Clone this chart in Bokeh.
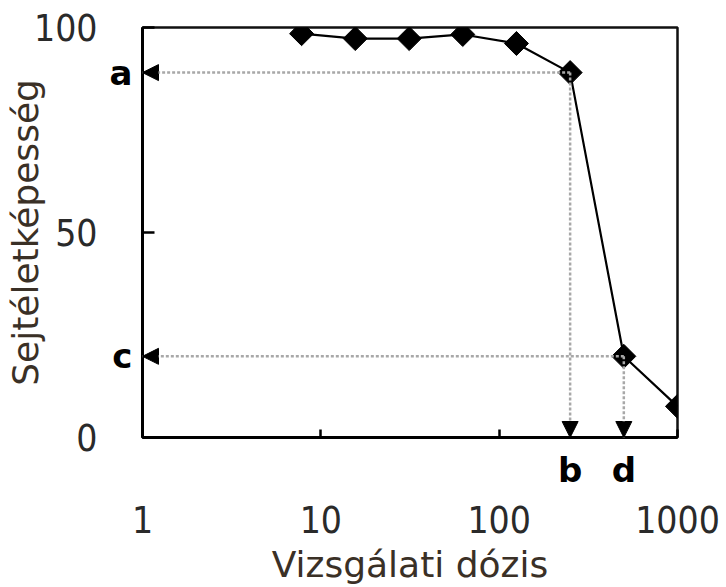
import numpy as np
from bokeh.plotting import figure
from bokeh.models import Range1d, FixedTicker, Arrow, NormalHead, LinearAxis, LogAxis
from bokeh.embed import file_html
from bokeh.resources import INLINE

# ---- data ----
dose = [7.8, 15.6, 31.3, 62.5, 125, 250, 500, 1000]
viability = [98.5, 97.3, 97.3, 98.3, 96.1, 89.0, 19.8, 7.6]
x_ticks = [1, 10, 100, 1000]
x_tick_labels = ["1", "10", "100", "1000"]
y_ticks = [0, 50, 100]
y_tick_labels = ["0", "50", "100"]
letters = ["a", "b", "c", "d"]
x_title = "Vizsgálati dózis"
y_title = "Sejtéletképesség"
ref_idx = [5, 6]  # points marked by (a, b) and (c, d)

W, H = 726, 587
TICK_FONT = "DejaVu Sans Condensed, DejaVu Sans"
TITLE_FONT = "DejaVu Sans"
TXT = "#2a2a2a"

p = figure(width=W, height=H, x_axis_type="log",
           x_range=Range1d(1, 1000), y_range=Range1d(0, 100),
           output_backend="svg", toolbar_location=None,
           min_border_left=142, min_border_right=49,
           min_border_top=27, min_border_bottom=150)
p.grid.visible = False
p.background_fill_color = "white"
p.border_fill_color = "white"
p.outline_line_color = "#111111"
p.outline_line_width = 2.5
p.outline_line_alpha = 1.0

# ---- inner left axis: letters a, c + inner ticks at 0/50/100 ----
ya = p.yaxis[0]
ya.ticker = FixedTicker(ticks=[viability[i] for i in ref_idx], minor_ticks=y_ticks)
ya.major_label_overrides = {viability[i]: letters[2 * k] for k, i in enumerate(ref_idx)}
ya.major_tick_in = 0
ya.major_tick_out = 0
ya.minor_tick_in = 12
ya.minor_tick_out = 0
ya.minor_tick_line_width = 2.5
ya.minor_tick_line_color = "black"
ya.axis_line_width = 3
ya.axis_line_color = "black"
ya.major_label_standoff = 10
ya.major_label_text_font = TITLE_FONT
ya.major_label_text_font_style = "bold"
ya.major_label_text_font_size = "34px"
ya.major_label_text_color = "black"

# ---- outer left axis: numbers + title ----
ya2 = LinearAxis(ticker=FixedTicker(ticks=y_ticks))
ya2.major_label_overrides = {t: l for t, l in zip(y_ticks, y_tick_labels)}
ya2.axis_line_color = None
ya2.major_tick_line_color = None
ya2.minor_tick_line_color = None
ya2.major_tick_in = 0
ya2.major_tick_out = 0
ya2.minor_tick_in = 0
ya2.minor_tick_out = 0
ya2.major_label_standoff = 9
ya2.major_label_text_font = TICK_FONT
ya2.major_label_text_font_size = "37px"
ya2.major_label_text_color = TXT
ya2.axis_label = y_title
ya2.axis_label_text_font = TITLE_FONT
ya2.axis_label_text_font_size = "36px"
ya2.axis_label_text_font_style = "normal"
ya2.axis_label_text_color = "#3a3026"
ya2.axis_label_standoff = -15
p.add_layout(ya2, "left")

# ---- inner bottom axis: letters b, d + inner ticks at 10/100 ----
xa = p.xaxis[0]
xa.ticker = FixedTicker(ticks=[dose[i] for i in ref_idx], minor_ticks=x_ticks)
xa.major_label_overrides = {dose[i]: letters[2 * k + 1] for k, i in enumerate(ref_idx)}
xa.major_tick_in = 0
xa.major_tick_out = 0
xa.minor_tick_in = 8
xa.minor_tick_out = 0
xa.minor_tick_line_width = 2.5
xa.minor_tick_line_color = "black"
xa.axis_line_width = 3
xa.axis_line_color = "black"
xa.major_label_standoff = 12
xa.major_label_text_font = TITLE_FONT
xa.major_label_text_font_style = "bold"
xa.major_label_text_font_size = "34px"
xa.major_label_text_color = "black"

# ---- outer bottom axis: numbers + title ----
xa2 = LogAxis(ticker=FixedTicker(ticks=x_ticks))
xa2.major_label_overrides = {t: l for t, l in zip(x_ticks, x_tick_labels)}
xa2.axis_line_color = None
xa2.major_tick_line_color = None
xa2.minor_tick_line_color = None
xa2.major_tick_in = 0
xa2.major_tick_out = 0
xa2.minor_tick_in = 0
xa2.minor_tick_out = 0
xa2.major_label_standoff = 13
xa2.major_label_text_font = TICK_FONT
xa2.major_label_text_font_size = "37px"
xa2.major_label_text_color = TXT
xa2.axis_label = x_title
xa2.axis_label_text_font = TITLE_FONT
xa2.axis_label_text_font_size = "36px"
xa2.axis_label_text_font_style = "normal"
xa2.axis_label_text_color = "#3a3026"
xa2.axis_label_standoff = 8
p.add_layout(xa2, "below")

# ---- dotted guide arrows ----
for i in ref_idx:
    p.add_layout(Arrow(end=NormalHead(size=16, fill_color="black", line_color="black"),
                       x_start=dose[i], y_start=viability[i],
                       x_end=x_ticks[0], y_end=viability[i],
                       line_color="#a8a8a8", line_width=2.5, line_dash="3 2"))
    p.add_layout(Arrow(end=NormalHead(size=16, fill_color="black", line_color="black"),
                       x_start=dose[i], y_start=viability[i],
                       x_end=dose[i], y_end=y_ticks[0],
                       line_color="#a8a8a8", line_width=2.5, line_dash="3 2"))

# ---- data ----
p.line(dose, viability, line_color="black", line_width=2.2)
p.scatter(dose, viability, marker="square", angle=np.pi / 4, size=17,
          fill_color="black", line_color="black")

open("out.html", "w").write(file_html(p, INLINE))
